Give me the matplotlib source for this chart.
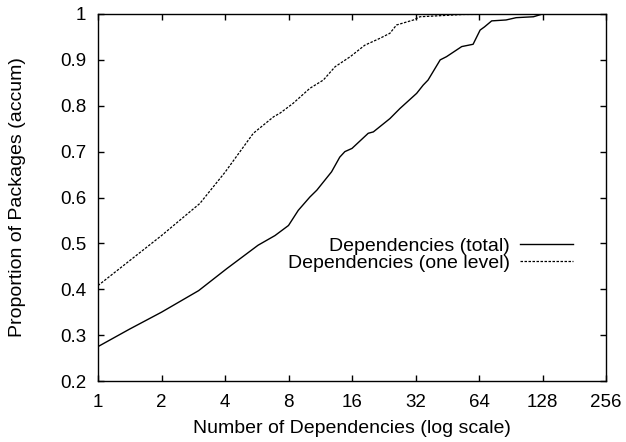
import matplotlib
matplotlib.use("Agg")
import matplotlib.pyplot as plt
from matplotlib.ticker import FixedLocator, FixedFormatter, NullLocator

plt.rcParams['font.family'] = ['Liberation Sans', 'DejaVu Sans']

# Dependencies (total)
total_x = [1, 1.41, 2, 3, 4.08, 5.74, 6.9, 8, 8.9, 10.1, 10.9, 12.8, 14.0, 14.8, 16,
           19.1, 20.2, 24.2, 27, 32.4, 34.8, 36.7, 41.9, 44.9, 53, 60, 64.8, 68,
           73.5, 86, 96, 116, 128, 256]
total_y = [0.275, 0.313, 0.35, 0.397, 0.445, 0.496, 0.517, 0.539, 0.572, 0.601,
           0.616, 0.656, 0.688, 0.70, 0.707, 0.74, 0.743, 0.772, 0.794, 0.827,
           0.845, 0.856, 0.90, 0.907, 0.929, 0.934, 0.965, 0.972, 0.985, 0.987,
           0.992, 0.994, 1.0, 1.0]

# Dependencies (one level)
one_x = [1, 2, 3.04, 4, 5.45, 6.8, 7.3, 8.4, 10.1, 11.7, 13.3, 15.7,
         18.4, 21.7, 24.2, 26, 31.3, 33.6, 54, 128, 256]
one_y = [0.408, 0.517, 0.587, 0.655, 0.74, 0.776, 0.784, 0.805,
         0.838, 0.856, 0.885, 0.907, 0.932, 0.947, 0.958, 0.976, 0.987, 0.994,
         0.999, 1.0, 1.0]

xticks = [1, 2, 4, 8, 16, 32, 64, 128, 256]
xtick_labels = ['1', '2', '4', '8', '16', '32', '64', '128', '256']
yticks = [0.2, 0.3, 0.4, 0.5, 0.6, 0.7, 0.8, 0.9, 1.0]
ytick_labels = ['0.2', '0.3', '0.4', '0.5', '0.6', '0.7', '0.8', '0.9', '1']

fig = plt.figure(figsize=(6.26, 4.42), dpi=100)
ax = fig.add_axes([98/626, 61/442, 508/626, 367/442])

ax.plot(total_x, total_y, color='black', lw=1.0, ls='-', label='Dependencies (total)')
ax.plot(one_x, one_y, color='black', lw=0.9, ls=(0, (2, 1.2)), label='Dependencies (one level)')

ax.set_xscale('log', base=2)
ax.set_xlim(1, 256)
ax.set_ylim(0.2, 1.0)
ax.xaxis.set_major_locator(FixedLocator(xticks))
ax.xaxis.set_major_formatter(FixedFormatter(xtick_labels))
ax.xaxis.set_minor_locator(NullLocator())
ax.yaxis.set_major_locator(FixedLocator(yticks))
ax.yaxis.set_major_formatter(FixedFormatter(ytick_labels))

ax.tick_params(direction='in', length=4.3, width=1, top=True, right=True,
               labelsize=13.5)
ax.tick_params(axis='y', pad=8.5)
ax.tick_params(axis='x', pad=9.5)
for s in ax.spines.values():
    s.set_linewidth(1.0)

ax.set_xlabel('Number of Dependencies (log scale)', fontsize=14)
ax.set_ylabel('Proportion of Packages (accum)', fontsize=14)
ax.xaxis.set_label_coords(0.5, -0.105)
ax.yaxis.set_label_coords(-0.142, 0.5)

leg = ax.legend(loc='center right', bbox_to_anchor=(0.935, 0.345), frameon=False,
                markerfirst=False, fontsize=14, handlelength=2.75, handletextpad=0.5,
                labelspacing=-0.05, borderpad=0, borderaxespad=0)

fig.savefig('out.png', dpi=100)
